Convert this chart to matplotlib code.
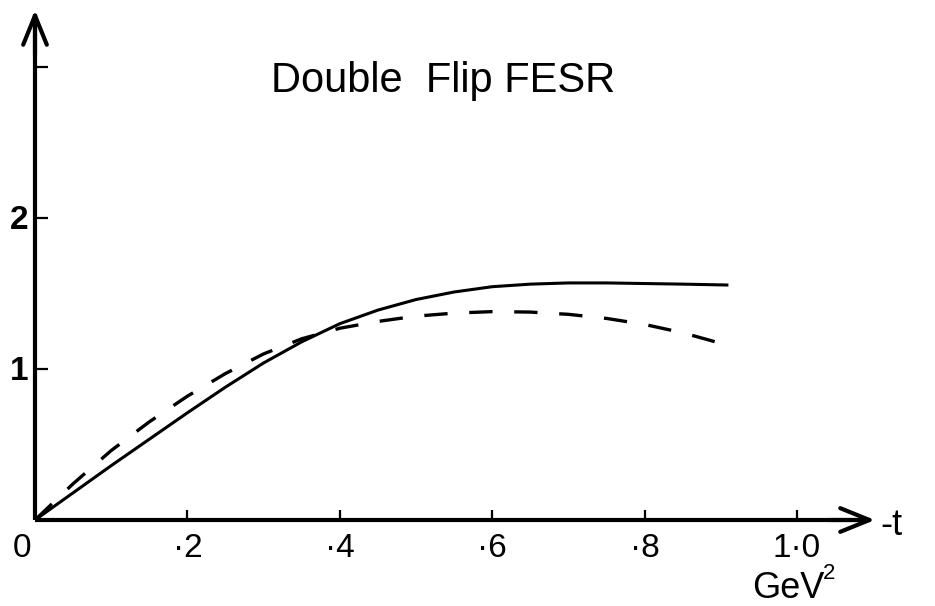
import matplotlib
matplotlib.use("Agg")
import matplotlib.pyplot as plt

plt.rcParams["font.family"] = ["Liberation Sans", "DejaVu Sans"]

# Solid curve: -t (GeV^2) vs amplitude
t_solid = [0.0, 0.05, 0.10, 0.15, 0.20, 0.25, 0.30, 0.35, 0.40, 0.45,
           0.50, 0.55, 0.60, 0.65, 0.70, 0.75, 0.80, 0.85, 0.91]
v_solid = [0.0, 0.18, 0.36, 0.535, 0.71, 0.88, 1.04, 1.18, 1.30, 1.39,
           1.46, 1.51, 1.545, 1.562, 1.57, 1.57, 1.566, 1.562, 1.556]

# Dashed curve
t_dash = [0.0, 0.05, 0.10, 0.15, 0.20, 0.25, 0.30, 0.35, 0.40, 0.45,
          0.50, 0.55, 0.60, 0.65, 0.70, 0.75, 0.80, 0.85, 0.90]
v_dash = [0.0, 0.24, 0.46, 0.65, 0.82, 0.97, 1.10, 1.20, 1.27, 1.315,
          1.35, 1.37, 1.38, 1.377, 1.362, 1.335, 1.295, 1.24, 1.17]

x_ticks = [0.2, 0.4, 0.6, 0.8, 1.0]
x_tick_labels = ["·2", "·4", "·6", "·8", "1·0"]
y_ticks = [1, 2, 3]
y_tick_labels = ["1", "2", ""]

title = "Double  Flip FESR"

W, H = 935, 606
X0, Y0 = 35, 520          # pixel position of the origin
SX, SY = 762, 151         # pixels per unit along each axis

fig = plt.figure(figsize=(W / 100, H / 100), dpi=100)
ax = fig.add_axes([0, 0, 1, 1])
ax.set_xlim(-X0 / SX, (W - X0) / SX)
ax.set_ylim((Y0 - H) / SY, Y0 / SY)

def px_x(p):
    return (p - X0) / SX

def px_y(p):
    return (Y0 - p) / SY

# axes through the origin
for s in ("top", "right"):
    ax.spines[s].set_visible(False)
for s in ("left", "bottom"):
    ax.spines[s].set_position(("data", 0))
    ax.spines[s].set_linewidth(3)
    ax.spines[s].set_capstyle("butt")
ax.spines["bottom"].set_bounds(0, 1.09)
ax.spines["left"].set_bounds(0, 3.35)

x_tip = px_x(875)
y_tip = px_y(10)
arrow = dict(arrowstyle="->,head_length=2.1,head_width=0.85", lw=3,
             color="black", mutation_scale=10, shrinkA=0, shrinkB=0)
ax.annotate("", xy=(x_tip, 0), xytext=(x_tip - 0.06, 0), arrowprops=arrow)
ax.annotate("", xy=(0, y_tip), xytext=(0, y_tip - 0.3), arrowprops=arrow)

ax.set_xticks(x_ticks)
ax.set_xticklabels([])
ax.set_yticks(y_ticks)
ax.set_yticklabels([])
ax.tick_params(axis="x", direction="in", length=7.5, width=1.6, color="black")
ax.tick_params(axis="y", direction="in", length=9, width=1.6, color="black")

for xv, lab in zip(x_ticks, x_tick_labels):
    ax.text(xv, px_y(557), lab, ha="center", va="baseline", fontsize=24)
ax.text(px_x(22), px_y(557), "0", ha="center", va="baseline", fontsize=24)
for yv, lab in zip(y_ticks, y_tick_labels):
    ax.text(px_x(28), yv - 0.07, lab, ha="right", va="baseline",
            fontsize=24, fontweight="bold")

ax.text(px_x(880), px_y(535), "-t", ha="left", va="baseline", fontsize=26)
ax.text(px_x(752), px_y(598), "GeV", ha="left", va="baseline", fontsize=26)
ax.text(px_x(823), px_y(579), "2", ha="left", va="baseline", fontsize=16)

ax.text(px_x(443), px_y(92), title, ha="center", va="baseline", fontsize=30)

ax.plot(t_solid, v_solid, color="black", lw=2.2, solid_capstyle="butt")
ax.plot(t_dash, v_dash, color="black", lw=2.4, linestyle=(0, (7, 6.5)),
        dash_capstyle="butt")

fig.savefig("out.png", dpi=100)
